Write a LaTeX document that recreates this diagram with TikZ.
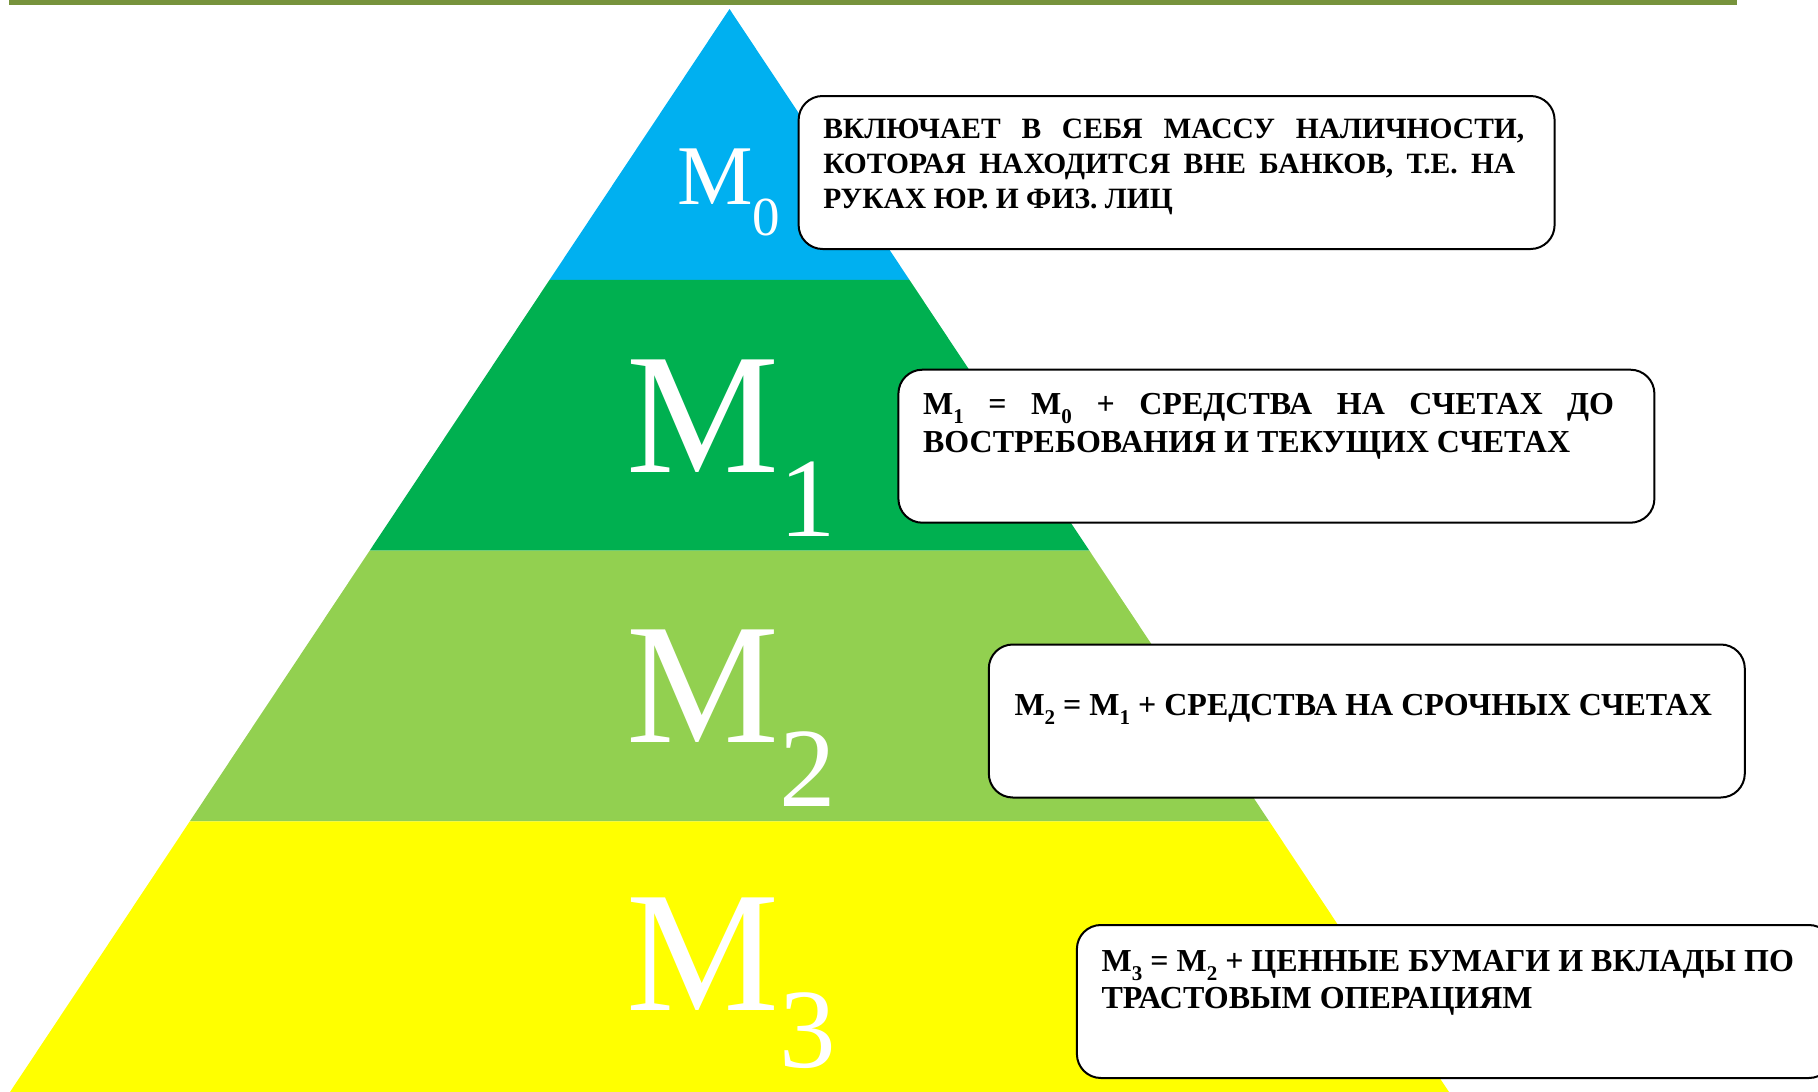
\documentclass[tikz,border=0pt]{standalone}
\usepackage{fontspec}
\setmainfont{Liberation Serif}
\usetikzlibrary{calc}

\definecolor{topbar}{HTML}{77933C}
\definecolor{lvlzero}{HTML}{00B0F0}
\definecolor{lvlone}{HTML}{00B050}
\definecolor{lvltwo}{HTML}{92D050}
\definecolor{lvlthree}{HTML}{FFFF00}

\newcommand\txtsub[1]{\raisebox{-9pt}{\fontsize{21}{21}\selectfont #1}}
\newcommand\jline[2]{\makebox[#1][s]{#2}}

\begin{document}
\begin{tikzpicture}[x=1pt,y=-1pt,
  infobox/.style={draw=black,line width=2pt,rounded corners=24pt,fill=white,
    minimum width=756pt,minimum height=153pt,inner sep=0pt,anchor=north west},
  infotext/.style={anchor=base west,inner sep=0pt,font=\bfseries\fontsize{32}{35}\selectfont},
  mlab/.style={anchor=base west,inner sep=0pt,text=white}]
\clip (0,0) rectangle (1818,1092);
\fill[topbar] (9,0) rectangle (1737,5);
% pyramid in four bands
\coordinate (apex) at (729.5,9);
\coordinate (bl) at (10,1092);
\coordinate (br) at (1449,1092);
\foreach \s/\e/\c in {0/0.25/lvlzero,0.25/0.5/lvlone,0.5/0.75/lvltwo,0.75/1/lvlthree}
  \fill[\c] ($(apex)!\s!(bl)$) -- ($(apex)!\s!(br)$) -- ($(apex)!\e!(br)$) -- ($(apex)!\e!(bl)$) -- cycle;

\node[mlab,font=\fontsize{85}{85}\selectfont] (m0) at (677,204) {M\raisebox{-31pt}{\fontsize{55}{55}\selectfont 0}};
\node[mlab,font=\fontsize{172}{172}\selectfont] (m1) at (626,472) {M\raisebox{-64pt}{\fontsize{113}{113}\selectfont 1}};
\node[mlab,font=\fontsize{172}{172}\selectfont] (m2) at (626,742) {M\raisebox{-64pt}{\fontsize{113}{113}\selectfont 2}};
\node[mlab,font=\fontsize{172}{172}\selectfont] (m3) at (626,1010) {M\raisebox{-57pt}{\fontsize{113}{113}\selectfont 3}};

% description boxes
\node[infobox] (b0) at (797.6,95) {};
\node[infobox] (b1) at (897.4,368.7) {};
\node[infobox] (b2) at (987.8,643.5) {};
\node[infobox] (b3) at (1075.9,924) {};

\node[infotext] (t0) at ($(b0.north west)+(25.5,43)$) {\parbox[t]{701pt}{\fontsize{29.5}{35}\selectfont
  \jline{701pt}{ВКЛЮЧАЕТ В СЕБЯ МАССУ НАЛИЧНОСТИ,}\\
  \jline{692pt}{КОТОРАЯ НАХОДИТСЯ ВНЕ БАНКОВ, Т.Е. НА}\\
  РУКАХ ЮР. И ФИЗ. ЛИЦ}};
\node[infotext] (t1) at ($(b1.north west)+(25.5,46)$) {\parbox[t]{691pt}{\fontsize{32}{38}\selectfont
  \jline{691pt}{М\txtsub{1} = М\txtsub{0} + СРЕДСТВА НА СЧЕТАХ ДО}\\
  ВОСТРЕБОВАНИЯ И ТЕКУЩИХ СЧЕТАХ}};
\node[infotext] (t2) at ($(b2.north west)+(26.5,71.5)$) {М\txtsub{2} = М\txtsub{1} + СРЕДСТВА НА СРОЧНЫХ СЧЕТАХ};
\node[infotext] (t3) at ($(b3.north west)+(25.5,47.6)$) {\parbox[t]{710pt}{\fontsize{32}{37}\selectfont
  М\txtsub{3} = М\txtsub{2} + ЦЕННЫЕ БУМАГИ И ВКЛАДЫ ПО\\
  ТРАСТОВЫМ ОПЕРАЦИЯМ}};
\end{tikzpicture}
\end{document}
